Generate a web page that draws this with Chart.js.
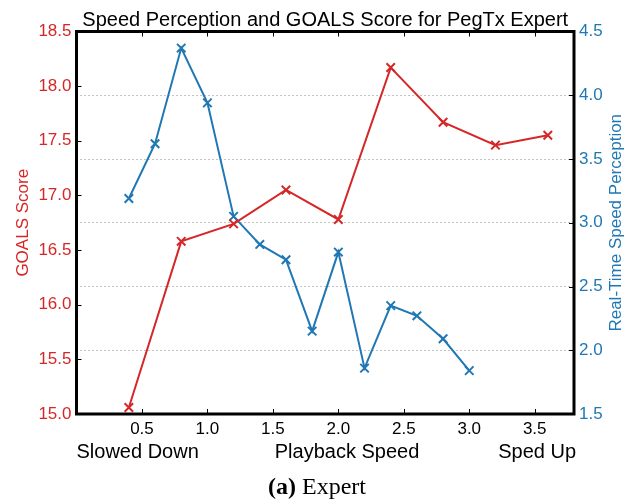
<!DOCTYPE html>
<html lang="en">
<head>
  <meta charset="UTF-8">
  <title>Speed Perception and GOALS Score for PegTx Expert</title>
  <script src="https://cdn.jsdelivr.net/npm/chart.js"></script>
  <style>
    html, body { margin: 0; padding: 0; background: #fff; }
  </style>
</head>
<body>
  <canvas id="speedChart" width="637" height="499"></canvas>

  <script>
    // GOALS score (left axis)
    const goalsSpeeds = [0.4, 0.8, 1.2, 1.6, 2.0, 2.4, 2.8, 3.2, 3.6];
    const goalsScores = [15.06, 16.58, 16.74, 17.05, 16.78, 18.17, 17.67, 17.46, 17.55];

    // Real-time speed perception (right axis)
    const perceptionSpeeds = [0.4, 0.6, 0.8, 1.0, 1.2, 1.4, 1.6, 1.8, 2.0, 2.2, 2.4, 2.6, 2.8, 3.0];
    const perceptionValues = [3.19, 3.62, 4.37, 3.94, 3.05, 2.83, 2.71, 2.15, 2.77, 1.86, 2.35, 2.27, 2.09, 1.84];

    const xTickValues = [0.5, 1.0, 1.5, 2.0, 2.5, 3.0, 3.5];
    const xLabels = ['Slowed Down', 'Playback Speed', 'Sped Up'];

    const RED = '#d62728';
    const BLUE = '#1f77b4';
    const SANS = "'Liberation Sans', Arial, Helvetica, sans-serif";
    const SERIF = "'Liberation Serif', 'Times New Roman', serif";

    const toPoints = (xs, ys) => xs.map((x, i) => ({ x: x, y: ys[i] }));

    // frame, inside ticks and all the loose text
    const decorPlugin = {
      id: 'decor',
      afterDraw(chart) {
        const ctx = chart.ctx;
        const a = chart.chartArea;
        const sx = chart.scales.x, sy = chart.scales.y, sy1 = chart.scales.y1;
        ctx.save();

        // inside tick marks
        ctx.strokeStyle = '#000';
        ctx.lineWidth = 1;
        ctx.beginPath();
        xTickValues.forEach(v => {
          const px = Math.round(sx.getPixelForValue(v)) + 0.5;
          ctx.moveTo(px, a.top); ctx.lineTo(px, a.top + 5);
          ctx.moveTo(px, a.bottom); ctx.lineTo(px, a.bottom - 5);
        });
        sy.ticks.forEach(t => {
          const py = Math.round(sy.getPixelForValue(t.value)) + 0.5;
          ctx.moveTo(a.left, py); ctx.lineTo(a.left + 5, py);
        });
        sy1.ticks.forEach(t => {
          const py = Math.round(sy1.getPixelForValue(t.value)) + 0.5;
          ctx.moveTo(a.right, py); ctx.lineTo(a.right - 5, py);
        });
        ctx.stroke();

        // thick frame
        ctx.lineWidth = 3;
        ctx.strokeRect(a.left, a.top, a.right - a.left, a.bottom - a.top);

        // title
        ctx.fillStyle = '#000';
        ctx.font = '20px ' + SANS;
        ctx.textAlign = 'center';
        ctx.textBaseline = 'alphabetic';
        ctx.fillText('Speed Perception and GOALS Score for PegTx Expert', (a.left + a.right) / 2, 26);

        // x-axis labels
        ctx.font = '20px ' + SANS;
        ctx.textAlign = 'left';
        ctx.fillText(xLabels[0], a.left, 458);
        ctx.textAlign = 'center';
        ctx.fillText(xLabels[1], 347, 458);
        ctx.textAlign = 'right';
        ctx.fillText(xLabels[2], a.right + 2, 458);

        // y-axis titles
        const midY = (a.top + a.bottom) / 2;
        ctx.font = '17px ' + SANS;
        ctx.textAlign = 'center';
        ctx.textBaseline = 'middle';
        ctx.fillStyle = RED;
        ctx.save();
        ctx.translate(23, midY);
        ctx.rotate(-Math.PI / 2);
        ctx.fillText('GOALS Score', 0, 0);
        ctx.restore();
        ctx.fillStyle = BLUE;
        ctx.save();
        ctx.translate(616, midY);
        ctx.rotate(-Math.PI / 2);
        ctx.fillText('Real-Time Speed Perception', 0, 0);
        ctx.restore();

        // caption
        ctx.fillStyle = '#000';
        ctx.textBaseline = 'alphabetic';
        ctx.textAlign = 'left';
        const boldFont = 'bold 24px ' + SERIF;
        const normFont = '24px ' + SERIF;
        ctx.font = boldFont;
        const w1 = ctx.measureText('(a)').width;
        ctx.font = normFont;
        const w2 = ctx.measureText(' Expert').width;
        const startX = 317 - (w1 + w2) / 2;
        ctx.font = boldFont;
        ctx.fillText('(a)', startX, 494);
        ctx.font = normFont;
        ctx.fillText(' Expert', startX + w1, 494);

        ctx.restore();
      }
    };

    const ctx = document.getElementById('speedChart').getContext('2d');
    new Chart(ctx, {
      type: 'line',
      data: {
        datasets: [
          {
            label: 'GOALS Score',
            data: toPoints(goalsSpeeds, goalsScores),
            yAxisID: 'y',
            borderColor: RED,
            backgroundColor: RED,
            borderWidth: 2,
            pointStyle: 'crossRot',
            pointRadius: 6,
            pointBorderWidth: 2,
            tension: 0,
            fill: false
          },
          {
            label: 'Real-Time Speed Perception',
            data: toPoints(perceptionSpeeds, perceptionValues),
            yAxisID: 'y1',
            borderColor: BLUE,
            backgroundColor: BLUE,
            borderWidth: 2,
            pointStyle: 'crossRot',
            pointRadius: 6,
            pointBorderWidth: 2,
            tension: 0,
            fill: false
          }
        ]
      },
      options: {
        responsive: false,
        animation: false,
        devicePixelRatio: 1,
        layout: { padding: { top: 31.5, right: 0, left: 0, bottom: 0 } },
        plugins: {
          legend: { display: false },
          tooltip: { enabled: false }
        },
        scales: {
          x: {
            type: 'linear',
            min: 0,
            max: 3.8,
            afterFit: s => { s.height = 85; },
            afterBuildTicks: s => { s.ticks = xTickValues.map(v => ({ value: v })); },
            ticks: {
              color: '#000',
              padding: 5,
              font: { family: SANS, size: 17 },
              callback: v => Number(v).toFixed(1)
            },
            grid: { display: false, drawTicks: false },
            border: { display: false }
          },
          y: {
            position: 'left',
            min: 15,
            max: 18.5,
            afterFit: s => { s.width = 76.5; },
            ticks: {
              stepSize: 0.5,
              color: RED,
              padding: 5,
              font: { family: SANS, size: 17 },
              callback: v => Number(v).toFixed(1)
            },
            grid: { display: false, drawTicks: false },
            border: { display: false }
          },
          y1: {
            position: 'right',
            min: 1.5,
            max: 4.5,
            afterFit: s => { s.width = 63; },
            ticks: {
              stepSize: 0.5,
              color: BLUE,
              padding: 5,
              font: { family: SANS, size: 17 },
              callback: v => Number(v).toFixed(1)
            },
            grid: {
              drawOnChartArea: true,
              drawTicks: false,
              color: '#888',
              lineWidth: 1,
              tickBorderDash: [1, 3]
            },
            border: { display: false, dash: [1, 3] }
          }
        }
      },
      plugins: [decorPlugin]
    });
  </script>
</body>
</html>
